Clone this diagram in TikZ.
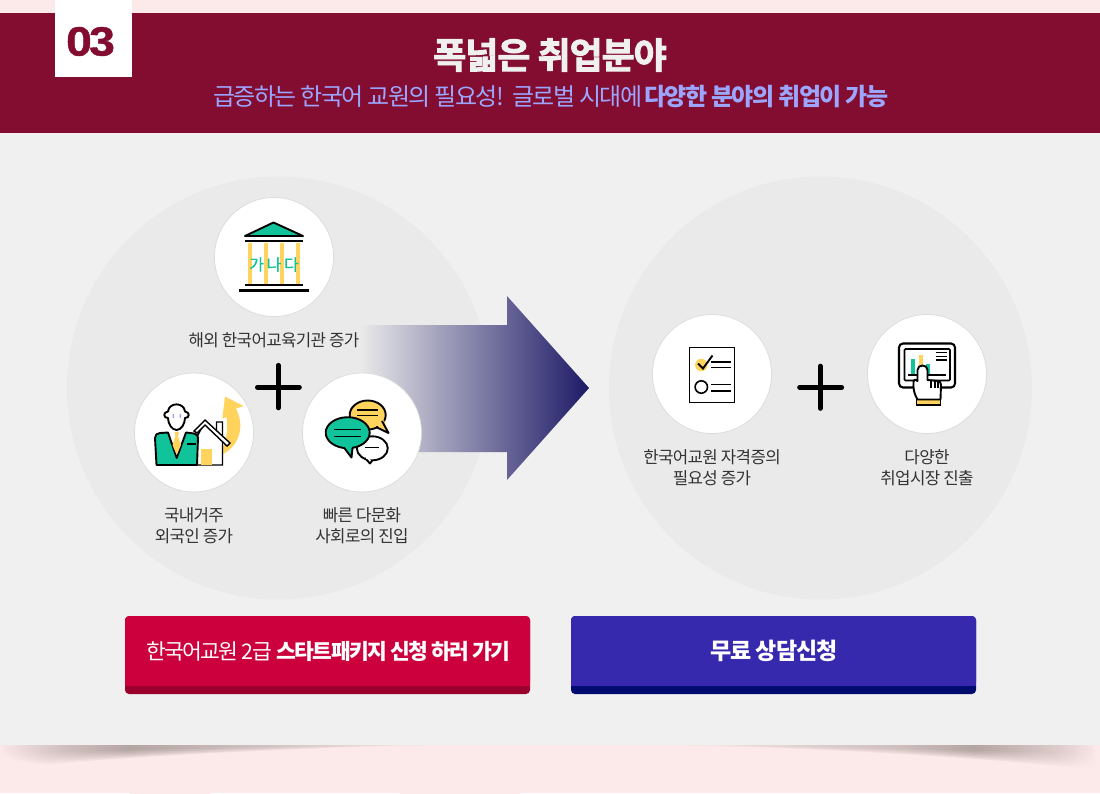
\documentclass[tikz,border=0pt]{standalone}
\usepackage{fontspec}
\setmainfont{Noto Sans CJK KR}[LetterSpace=-4]
\newfontfamily\heavyfont{Noto Sans CJK KR}[BoldFont={Noto Sans CJK KR Bold},BoldFeatures={FakeBold=2.5},LetterSpace=-3]
\newfontfamily\numfont{Liberation Sans}[BoldFeatures={FakeBold=1},LetterSpace=-6]
\newfontfamily\tightfont{Noto Sans CJK KR}[LetterSpace=-6.5]
\newfontfamily\tighterfont{Noto Sans CJK KR}[LetterSpace=-8]
\newfontfamily\ganafont{Noto Sans CJK KR}[FakeBold=.5]
\usepackage{tikz}
\usetikzlibrary{shapes}
\usetikzlibrary{arrows}
\definecolor{wine}{HTML}{820D30}
\definecolor{paper}{HTML}{F0F0F0}
\definecolor{blush}{HTML}{FCE9E9}
\definecolor{blotch}{HTML}{FAE4E4}
\definecolor{disc}{HTML}{EAEAEA}
\definecolor{navy}{HTML}{1D1A66}
\definecolor{mint}{HTML}{10C39A}
\definecolor{honey}{HTML}{FFD35C}
\definecolor{lilac}{HTML}{9CA6FF}
\definecolor{redbtn}{HTML}{CC003D}
\definecolor{redlip}{HTML}{9A002C}
\definecolor{bluebtn}{HTML}{3629AE}
\definecolor{bluelip}{HTML}{000B6E}
\definecolor{capt}{HTML}{333333}
\definecolor{shade}{HTML}{857A76}
\pgfdeclarehorizontalshading{shadowleft}{100bp}{color(0bp)=(blush);color(25bp)=(blush);color(32bp)=(shade!55!blush);color(40bp)=(shade);color(54bp)=(shade!60!blush);color(75bp)=(blush);color(100bp)=(blush)}
\pgfdeclarehorizontalshading{shadowright}{100bp}{color(0bp)=(blush);color(25bp)=(blush);color(51bp)=(shade!60!blush);color(60bp)=(shade);color(70bp)=(shade!40!blush);color(74.5bp)=(blush);color(100bp)=(blush)}
\tikzset{
	main node/.style={circle,fill=white,draw=black!14,line width=.7pt,minimum size=119pt,inner sep=0pt},
	big disc/.style={circle,fill=disc,minimum size=423pt,inner sep=0pt},
	capt node/.style={align=center,text=capt,font=\fontsize{16.8}{21}\selectfont,inner sep=0pt},
	btn text/.style={text=white,inner sep=0pt},
	plus bar/.style={line width=4.6pt,line cap=round},
	ink/.style={line width=1.9pt,line join=round},
	ink thin/.style={line width=1.6pt,line cap=butt},
	soft band/.style={left color=blush,middle color=blotch,right color=blush}
}

\begin{document}
\begin{tikzpicture}[x=1pt,y=-1pt]
      \useasboundingbox (0,0) rectangle (1100,793);
      \fill[blush] (0,0) rectangle (1100,793);
      \shade[soft band] (290,0) rectangle (450,13);
      \shade[soft band] (400,750) rectangle (520,793);
      \shade[soft band] (130,765) rectangle (210,793);
      \fill[paper] (0,133) rectangle (1100,745);

      % bottom shadow
      \foreach \d in {.4,.5,.6,.7,.8,.9,1} {
        \shade[shading=shadowleft,opacity=.12] (0,745) -- (430,745) .. controls (300,745+\d*3) and (150,745+\d*10) .. (50,745+\d*19) .. controls (30,745+\d*19) and (10,745+\d*15) .. (0,745+\d*10) -- cycle;
        \shade[shading=shadowright,opacity=.12] (680,745) .. controls (800,745+\d*3) and (950,745+\d*10) .. (1070,745+\d*22) -- (1100,745+\d*22) -- (1100,745) -- cycle;
      }

      % header
      \fill[wine] (0,13) rectangle (1100,133);
      \node[fill=white,minimum size=77pt,inner sep=0pt] (badge) at (93.5,38.5) {};
      \node[text=wine,inner sep=0pt,xscale=1.13,font=\numfont\bfseries\fontsize{41}{41}\selectfont] (num) at (90.5,41.5) {03};
      \node[text=paper,inner sep=0pt,font=\heavyfont\bfseries\fontsize{36}{40}\selectfont] (title) at (550,55) {폭넓은 취업분야};
      \node[text=lilac,inner sep=0pt,font=\tightfont\fontsize{24}{28}\selectfont] (sub) at (550,97) {급증하는 한국어 교원의 필요성!\hspace{3pt} 글로벌 시대에 \textbf{다양한 분야의 취업이 가능}};

      % discs
      \node[big disc] (left) at (278.5,388) {};
      \node[big disc] (right) at (820.5,388) {};

      % big arrow
      \shade[left color=disc,right color=navy] (360,325) -- (507,325) -- (507,296) -- (589,388) -- (507,480) -- (507,452) -- (360,452) -- cycle;

      \node[capt node] (c1) at (274,340) {해외 한국어교육기관 증가};

      % small circles
      \node[main node] (bank) at (274,257) {};
      \node[main node] (man) at (194,432.5) {};
      \node[main node] (talk) at (362,432.5) {};
      \node[main node] (list) at (712,374) {};
      \node[main node] (pad) at (927,374) {};

      \node[capt node] (c2) at (194,525.5) {국내거주\\외국인 증가};
      \node[capt node] (c3) at (362,525.5) {빠른 다문화\\사회로의 진입};
      \node[capt node] (c4) at (712,467.5) {한국어교원 자격증의\\필요성 증가};
      \node[capt node] (c5) at (927,467.5) {다양한\\취업시장 진출};

      % plus signs
      \draw[plus bar] (257.3,387.3) -- (299.5,387.3) (278.3,365.2) -- (278.3,408);
      \draw[plus bar] (799.5,387.3) -- (841.8,387.3) (820.3,366) -- (820.3,408.5);

      % bank icon
      \foreach \x in {250,266,281.7,297.7}
        \fill[honey] (\x-2.2,243) rectangle (\x+2.2,285);
      \draw[ink,fill=mint] (245,236) -- (273.5,222.5) -- (303,236) -- cycle;
      \draw[line width=2.2pt] (245,241) -- (303,241) (245,285) -- (303,285) (239,290.5) -- (309,290.5);
      \node[text=mint,inner sep=0pt,font=\ganafont\fontsize{16}{16}\selectfont] (gana) at (274,264.5) {가\,나\,다};

      % man and house icon
      \fill[honey] (225,396.5) -- (243.5,406) -- (236,408.5) .. controls (247,430) and (236,452) .. (215,457) .. controls (225,450) and (229,432) .. (226.5,417) -- (222.3,418.5) -- cycle;
      \draw[line width=1.4pt,fill=white] (197,437) -- (197,465) -- (222.5,465) -- (222.5,422) -- (216.5,422) -- (216.5,432) -- (205,421) -- cycle;
      \fill[honey] (201,448.5) rectangle (212,464.5);
      \draw[line width=1.4pt,fill=white,line join=miter] (194,431) -- (205,420) -- (230,443) -- (227,446) -- (205,425) -- (197,433) -- cycle;
      \draw[ink,fill=mint] (156.5,465) -- (155,438) .. controls (155,435) and (157,433) .. (160,433) -- (168,432.5) -- (176.7,458) -- (186,432.5) -- (194,433.5) .. controls (197,434) and (198,436) .. (198,438) -- (197,465) -- cycle;
      \fill[honey] (174.5,432) -- (179,432) -- (178,436) -- (181,445) -- (176.7,455) -- (172.5,445) -- (175.5,436) -- cycle;
      \draw[line width=1.4pt] (187,444) -- (196,444);
      \draw[ink,fill=white] (168,418) .. controls (163,418) and (163,412) .. (168,411.5) .. controls (169,402) and (184,402) .. (185,411.5) .. controls (190,412) and (190,418) .. (185,418) .. controls (185,424) and (181,430) .. (176.7,430) .. controls (172,430) and (168,424) .. (168,418) -- cycle;
      \fill[lilac] (172.5,414) rectangle (174,418) (179.5,414) rectangle (181,418);

      % speech bubbles icon
      \draw[ink,fill=honey] (367.7,415) ellipse (18 and 14.5);
      \fill[honey] (376,425) -- (384,420) -- (388,433) -- cycle;
      \draw[ink] (382,421) -- (388.5,433) -- (376,427);
      \draw[ink thin] (357,410) -- (378,410) (357,415.5) -- (378,415.5);
      \draw[ink,fill=white] (372.3,448.3) ellipse (15.5 and 12);
      \draw[ink,fill=white] (365,458) -- (370,463.5) -- (372.5,460);
      \fill[white] (366,456) rectangle (372,459);
      \draw[ink thin] (365,447.5) -- (379,447.5);
      \draw[ink,fill=mint] (347.7,432.7) ellipse (22 and 15.5);
      \fill[mint] (343,446) -- (352,445) -- (351.5,456) -- cycle;
      \draw[ink] (344,447.5) -- (351.5,457.5) -- (352.5,448);
      \draw[ink thin] (334,429.5) -- (361,429.5) (334,436.5) -- (361,436.5);

      % checklist icon
      \draw[ink,fill=white,line join=miter] (689.5,347.5) rectangle (734.5,402.5);
      \fill[honey] (701.3,365) circle (6.2);
      \draw[line width=1.9pt] (698,363.5) -- (703,368.5) -- (712.5,355.5);
      \draw[ink thin] (711,362) -- (730.5,362) (711,367.5) -- (730.5,367.5) (711,384.5) -- (730.5,384.5) (711,391) -- (730.5,391);
      \draw[line width=1.6pt] (701.3,387) circle (6.2);

      % tablet icon
      \draw[line width=2.1pt,rounded corners=4pt] (899,343.5) rectangle (955,387.5);
      \draw[line width=1.6pt,rounded corners=1pt] (904.5,349) rectangle (950,380.5);
      \fill[mint] (910.7,358.5) rectangle (915,375);
      \fill[honey] (918.7,355) rectangle (923.3,375);
      \fill[mint] (926,363.5) rectangle (930,375);
      \draw[line width=1.4pt] (908,375) -- (946,375);
      \draw[line width=1.3pt] (935.5,352.5) -- (946.5,352.5) (935.5,356.2) -- (946.5,356.2) (935.5,360) -- (946.5,360);
      \fill[honey] (916.5,399.5) rectangle (940.5,405);
      \draw[line width=1.5pt] (916.5,399.5) rectangle (940.5,405);
      \draw[ink,fill=white,line join=round] (917.5,399.5) .. controls (914,394) and (913,388) .. (913.5,382) .. controls (914,379) and (916,379) .. (917.5,381) -- (917.5,370) .. controls (917.5,364) and (927.5,364) .. (927.5,370) -- (927.5,380) -- (938,381) .. controls (940,381) and (941,383) .. (941,385) -- (940.5,399.5) -- cycle;
      \draw[line width=1.2pt] (931,381) -- (931,388) (935,381) -- (935,388) (938,382) -- (938,388);

      % buttons
      \fill[redlip,rounded corners=4pt] (125,616) rectangle (530,694);
      \fill[redbtn,rounded corners=4pt] (125,616) rectangle (530,686);
      \fill[redbtn] (125,680) rectangle (530,686);
      \fill[bluelip,rounded corners=4pt] (571,616) rectangle (976,694);
      \fill[bluebtn,rounded corners=4pt] (571,616) rectangle (976,686);
      \fill[bluebtn] (571,680) rectangle (976,686);
      \node[btn text,font=\tighterfont\fontsize{21.5}{26}\selectfont] (b1) at (327.5,651) {한국어교원 2급\hspace{2pt} \textbf{스타트패키지 신청 하러 가기}};
      \node[btn text,font=\fontsize{23}{26}\selectfont] (b2) at (773.5,651) {\textbf{무료 상담신청}};
    \end{tikzpicture}
\end{document}
